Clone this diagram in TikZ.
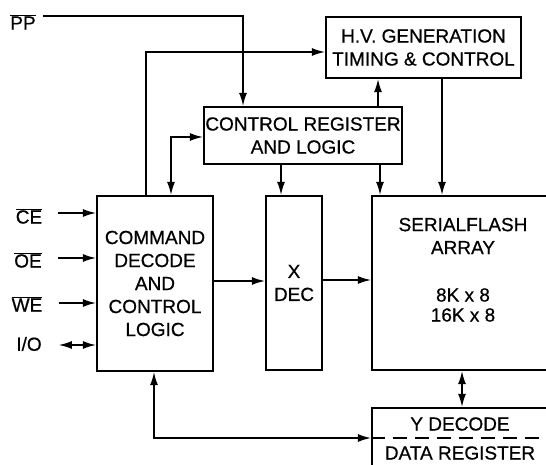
\documentclass[tikz,border=0pt]{standalone}
\usepackage{fontspec}
\setmainfont{Liberation Sans}
\newfontfamily\heavy[FakeBold=0.6]{Liberation Sans}
\usetikzlibrary{arrows.meta}
\begin{document}
\begin{tikzpicture}[x=1pt, y=-1pt, >={Latex[length=13pt,width=8pt]},
        blk/.style={draw, line width=2.3pt, inner sep=0pt, align=center, font=\heavy\fontsize{19}{23}\selectfont},
        txt/.style={inner sep=0pt, align=center, font=\heavy\fontsize{19}{23}\selectfont},
        wire/.style={line width=1.4pt}]
    \clip (0,0) rectangle (546,465);
    \node[blk, minimum width=195pt, minimum height=61pt] (hv) at (423.5,47.5) {H.V. GENERATION\\TIMING \& CONTROL};
    \node[blk, minimum width=198pt, minimum height=57pt] (ctrl) at (303,135.5) {CONTROL REGISTER\\AND LOGIC};
    \node[blk, minimum width=116pt, minimum height=175pt] (cmd) at (155,283.5) {COMMAND\\DECODE\\AND\\CONTROL\\LOGIC};
    \node[blk, minimum width=56pt, minimum height=174pt] (xdec) at (294,283) {X\\DEC};
    \node[blk, minimum width=176pt, minimum height=174pt] (arr) at (460,283) {};
    \node[blk, minimum width=176pt, minimum height=82pt] (ydec) at (460,449) {};
    \node[txt] (arrt) at (463,236) {SERIALFLASH\\ARRAY};
    \node[txt, font=\heavy\fontsize{19}{20}\selectfont] (arrs) at (463,305) {8K x 8\\16K x 8};
    \node[txt] (ydt) at (460,424) {Y DECODE};
    \node[txt] (drt) at (460,453) {DATA REGISTER};
    \draw[wire, dash pattern=on 14pt off 8pt] (ydec.north west) ++(0,31) -- ++(176,0);
    \node[txt] (pp) at (23,22) {$\overline{\mbox{PP}}$};
    \node[txt] (ce) at (29,216) {$\overline{\mbox{CE}}$};
    \node[txt] (oe) at (28,260) {$\overline{\mbox{OE}}$};
    \node[txt] (we) at (27,304) {$\overline{\mbox{WE}}$};
    \node[txt] (io) at (29,344) {I/O};
    \draw[wire,->] ([xshift=16pt,yshift=3pt]ce.east) -- ([yshift=3pt]ce.east -| cmd.west);
    \draw[wire,->] ([xshift=16pt,yshift=2pt]oe.east) -- ([yshift=2pt]oe.east -| cmd.west);
    \draw[wire,->] ([xshift=16pt,yshift=1pt]we.east) -- ([yshift=1pt]we.east -| cmd.west);
    \draw[wire,<->] ([xshift=17pt,yshift=-1pt]io.east) -- ([yshift=-1pt]io.east -| cmd.west);
    \draw[wire,->] ([xshift=7pt,yshift=6pt]pp.east) -| ([xshift=-60pt]ctrl.north);
    \draw[wire,->] ([xshift=-9pt]cmd.north) |- ([yshift=-4.5pt]hv.west);
    \draw[wire,<->] ([xshift=16pt]cmd.north) |- ([yshift=-1.5pt]ctrl.west);
    \draw[wire,->] ([xshift=-13pt]xdec.north |- ctrl.south) -- ([xshift=-13pt]xdec.north);
    \draw[wire,->] ([xshift=77pt]ctrl.south) -- ([xshift=77pt]ctrl.south |- arr.north);
    \draw[wire,->] ([xshift=75pt]ctrl.north) -- ([xshift=75pt]ctrl.north |- hv.south);
    \draw[wire,->] ([xshift=18.5pt]hv.south) -- ([xshift=18.5pt]hv.south |- arr.north);
    \draw[wire,->] ([yshift=2.5pt]cmd.east) -- ([yshift=2.5pt]cmd.east -| xdec.west);
    \draw[wire,->] ([yshift=3pt]xdec.east) -- ([yshift=3pt]xdec.east -| arr.west);
    \draw[wire,<->] ([xshift=2pt]arr.south) -- ([xshift=2pt]arr.south |- ydec.north);
    \draw[wire,<->] ([xshift=-1pt]cmd.south) |- ([yshift=11pt]ydec.west);
\end{tikzpicture}
\end{document}
